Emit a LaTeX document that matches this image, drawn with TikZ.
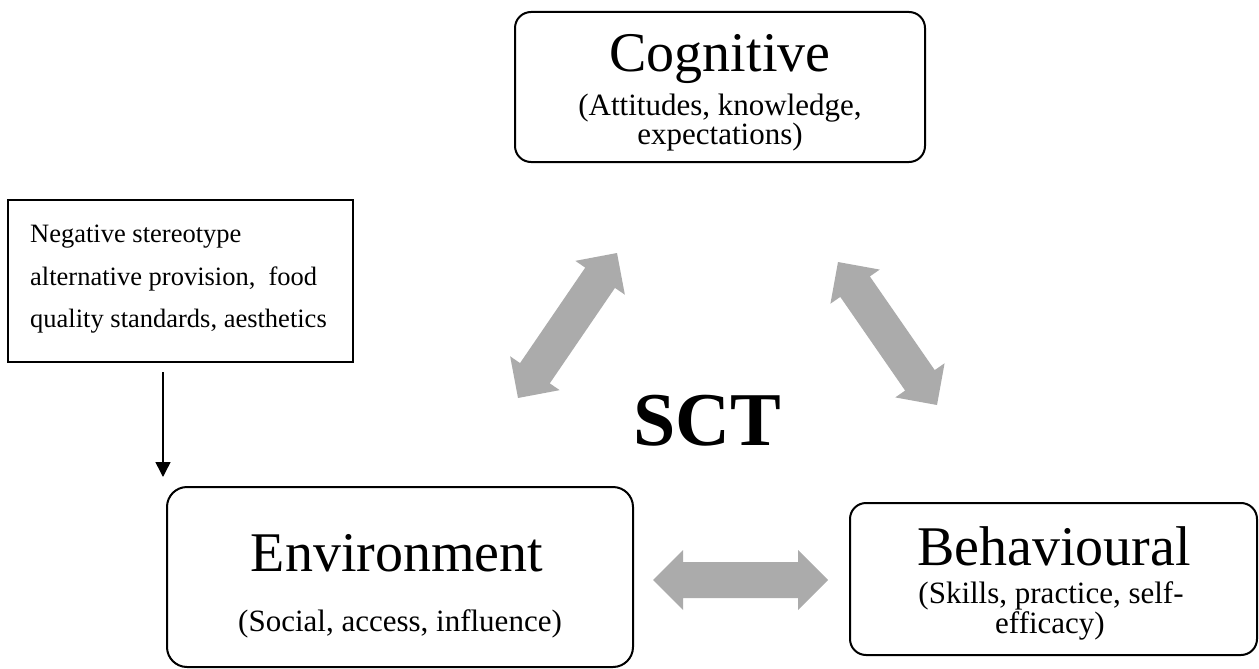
\documentclass[tikz,border=0pt]{standalone}
\usepackage{fontspec}
\setmainfont{Liberation Serif}
\usetikzlibrary{calc,arrows.meta}
\definecolor{arrowgray}{RGB}{171,171,171}
\newcommand{\blockarrow}[2]{%
  \fill[arrowgray] (#1)
   -- ($(#1)!30pt!(#2)!30pt!90:(#2)$)
   -- ($(#1)!30pt!(#2)!18pt!90:(#2)$)
   -- ($(#2)!30pt!(#1)!18pt!-90:(#1)$)
   -- ($(#2)!30pt!(#1)!30pt!-90:(#1)$)
   -- (#2)
   -- ($(#2)!30pt!(#1)!30pt!90:(#1)$)
   -- ($(#2)!30pt!(#1)!18pt!90:(#1)$)
   -- ($(#1)!30pt!(#2)!18pt!-90:(#2)$)
   -- ($(#1)!30pt!(#2)!30pt!-90:(#2)$)
   -- cycle;}
\begin{document}
\begin{tikzpicture}[x=1pt,y=-1pt,
  box/.style={draw, line width=2pt, rounded corners=16pt, inner sep=0pt},
  plainbox/.style={draw, line width=2.2pt, inner sep=0pt},
  title/.style={font=\fontsize{56}{56}\selectfont, anchor=base, inner sep=0pt},
  sub/.style={font=\fontsize{31}{30}\selectfont, anchor=base, inner sep=0pt},
  note/.style={font=\fontsize{26.5}{42}\selectfont, anchor=base west, inner sep=0pt},
  sct/.style={font=\fontsize{76}{76}\selectfont\bfseries, anchor=base, inner sep=0pt}]
\useasboundingbox (0,0) rectangle (1259,669);

% Cognitive
\node[box, minimum width=410pt, minimum height=150pt] (cog) at (720,87) {};
\node[title] (cogt) at (720,72) {Cognitive};
\node[sub] (cogs1) at (720,115) {(Attitudes, knowledge,};
\node[sub] (cogs2) at (720,144) {expectations)};

% Environment
\node[box, rounded corners=20pt, minimum width=466pt, minimum height=180pt] (env) at (400,577) {};
\node[title] (envt) at (397,571) {Environment};
\node[sub] (envs) at (400,631) {(Social, access, influence)};

% Behavioural
\node[box, minimum width=407pt, minimum height=152pt] (beh) at (1053.5,579) {};
\node[title] (beht) at (1054,565) {Behavioural};
\node[sub] (behs1) at (1051,603) {(Skills, practice, self-};
\node[sub] (behs2) at (1050,633) {efficacy)};

% Left note box
\node[plainbox, minimum width=345pt, minimum height=162pt] (neg) at (180.5,281) {};
\node[note] (n1) at (30,242) {Negative stereotype};
\node[note] (n2) at (30,285) {alternative provision,\ \ food};
\node[note] (n3) at (30,327) {quality standards, aesthetics};

% SCT
\node[sct] (sctl) at (707,445) {SCT};

% block arrows
\coordinate (ce1) at (518,398);
\coordinate (ce2) at (617,253);
\coordinate (cb1) at (838,262);
\coordinate (cb2) at (937,405);
\coordinate (eb1) at (653,580);
\coordinate (eb2) at (828,580);
\blockarrow{ce1}{ce2}
\blockarrow{cb1}{cb2}
\blockarrow{eb1}{eb2}

% down arrow
\coordinate (dwS) at (163,372);
\coordinate (dwE) at (163,477);
\draw[line width=1.5pt, -{Triangle[width=15pt,length=15pt]}] (dwS) -- (dwE);
\end{tikzpicture}
\end{document}
